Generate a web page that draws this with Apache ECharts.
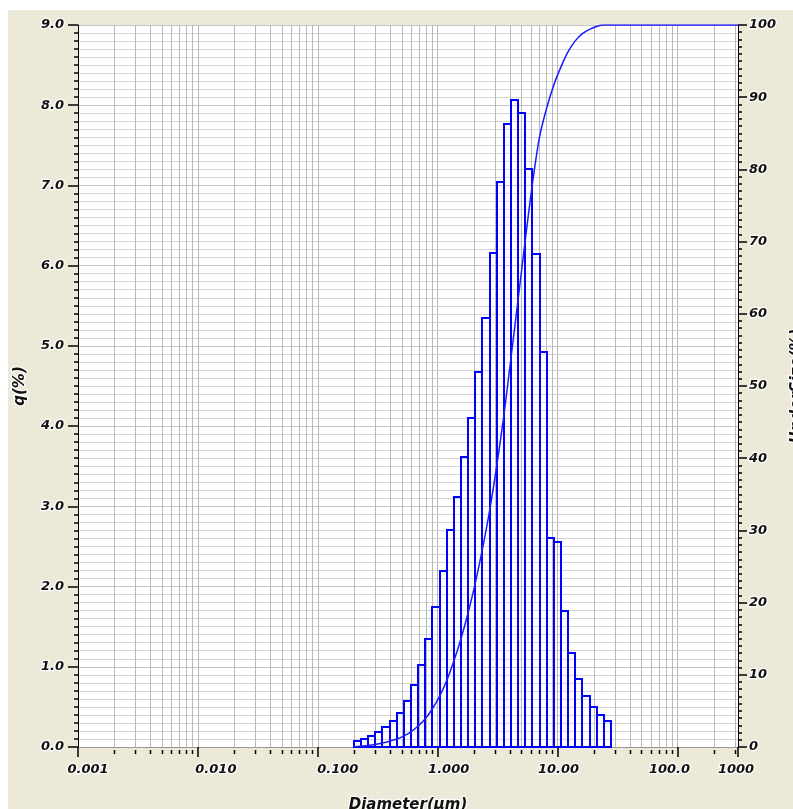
<!DOCTYPE html>
<html><head><meta charset="utf-8">
<script src="https://cdn.jsdelivr.net/npm/echarts@6/dist/echarts.min.js"></script>
<style>
html,body{margin:0;padding:0;background:#fff;width:793px;height:809px;overflow:hidden}
#c{position:absolute;left:8px;top:10px;width:785px;height:799px;background:#ECE9D8}
</style>
</head><body><div id="c"></div>
<script>
// ---- data ----
const binEdges = [0.2, 0.2294, 0.2631, 0.3018, 0.3462, 0.3971, 0.4555, 0.5224, 0.5992, 0.6873,
  0.7884, 0.9043, 1.037, 1.190, 1.365, 1.565, 1.795, 2.059, 2.362, 2.709, 3.107, 3.564, 4.088,
  4.689, 5.378, 6.169, 7.076, 8.116, 9.309, 10.68, 12.25, 14.05, 16.11, 18.48, 21.20, 24.32, 27.89];
const qPercent = [0.07, 0.10, 0.14, 0.19, 0.25, 0.32, 0.43, 0.57, 0.77, 1.02, 1.35, 1.75, 2.20,
  2.70, 3.12, 3.62, 4.10, 4.68, 5.35, 6.16, 7.04, 7.76, 8.07, 7.90, 7.20, 6.14, 4.93, 2.60, 2.55,
  1.69, 1.17, 0.85, 0.63, 0.50, 0.40, 0.32];
const underSizeX = binEdges.concat([320]);
const underSize = [0, 0.1, 0.2, 0.35, 0.55, 0.8, 1.1, 1.55, 2.1, 2.9, 3.9, 5.3, 7.0, 9.2, 11.9,
  15.0, 18.6, 22.7, 27.4, 32.7, 38.9, 45.9, 53.9, 62.0, 70.2, 78.0, 84.5, 88.5, 91.7, 94.2, 96.3,
  97.8, 98.8, 99.4, 99.8, 100, 100, 100];
const xTickLabels = ['0.001', '0.010', '0.100', '1.000', '10.00', '100.0', '1000'];
const xMinorTicks = [0.002,0.003,0.004,0.005,0.006,0.007,0.008,0.009,
  0.02,0.03,0.04,0.05,0.06,0.07,0.08,0.09,
  0.2,0.3,0.4,0.5,0.6,0.7,0.8,0.9,
  2,3,4,5,6,7,8,9,
  20,30,40,50,60,70,80,90,
  200,300];
const xMin = 0.001, xMax = 320;
const qMax = 9, uMax = 100;

// ---- styles ----
const labelShift = [10, 18, 20, 11, 1, -8, -2];
const FONT = 'DejaVu Sans';
const txt = {fontFamily: FONT, fontWeight: 'bold', fontStyle: 'italic', fontSize: 13, color: '#111',
  textBorderColor: 'rgba(255,255,255,0.9)', textBorderWidth: 2.5};
const nameTxt = Object.assign({}, txt, {fontSize: 15});
const rich = {};
labelShift.forEach((d, i) => {
  rich['r' + i] = Object.assign({}, txt, {padding: d >= 0 ? [0, 0, 0, 2 * d] : [0, -2 * d, 0, 0]});
});

const bars = qPercent.map((q, i) => [binEdges[i], binEdges[i + 1], q]);
const curve = underSize.map((u, i) => [underSizeX[i], u]);

const chart = echarts.init(document.getElementById('c'), null, {renderer: 'canvas'});
chart.setOption({
  animation: false,
  grid: {left: 70, right: 55, top: 15, bottom: 62, show: true, backgroundColor: '#fff', borderWidth: 0,
    containLabel: false, outerBoundsMode: 'none'},
  xAxis: {
    type: 'log', min: xMin, max: xMax, logBase: 10,
    name: 'Diameter(μm)', nameLocation: 'middle', nameGap: 51, nameTextStyle: nameTxt,
    axisLine: {show: true, lineStyle: {color: '#9a9a9a', width: 1}},
    axisTick: {show: true, length: 10, lineStyle: {color: '#000', width: 1.5}},
    axisLabel: {margin: 16, formatter: v => {
      const i = Math.min(6, Math.max(0, Math.round(Math.log10(v) + 3)));
      return '{r' + i + '|' + xTickLabels[i] + '}';
    }, rich: rich},
    splitLine: {show: true, lineStyle: {color: '#b8b8b8', width: 1}},
    minorTick: {show: false}
  },
  yAxis: [{
    type: 'value', min: 0, max: qMax, interval: 1, position: 'left',
    name: 'q(%)', nameLocation: 'middle', nameGap: 45, nameTextStyle: nameTxt,
    axisLine: {show: true, lineStyle: {color: '#000', width: 1}},
    axisTick: {show: true, length: 10, lineStyle: {color: '#000', width: 1.5}},
    minorTick: {show: true, splitNumber: 10, length: 4, lineStyle: {color: '#000', width: 1.5}},
    axisLabel: Object.assign({margin: 14, formatter: v => v.toFixed(1)}, txt),
    splitLine: {show: true, lineStyle: {color: '#c4c4c4', width: 1}},
    minorSplitLine: {show: true, lineStyle: {color: '#d4d4d4', width: 1}}
  }, {
    type: 'value', min: 0, max: uMax, interval: 10, position: 'right',
    name: 'UnderSize(%)', nameLocation: 'middle', nameGap: 46, nameTextStyle: nameTxt,
    axisLine: {show: true, lineStyle: {color: '#000', width: 1}},
    axisTick: {show: true, length: 9, lineStyle: {color: '#000', width: 1.5}},
    minorTick: {show: true, splitNumber: 10, length: 4, lineStyle: {color: '#000', width: 1.5}},
    axisLabel: Object.assign({margin: 11, formatter: v => String(v)}, txt),
    splitLine: {show: false}
  }],
  series: [{
    type: 'custom', name: 'grid', xAxisIndex: 0, yAxisIndex: 0, z: 1, silent: true, clip: false,
    data: xMinorTicks.map(v => [v]),
    encode: {x: 0},
    renderItem: (p, api) => {
      const v = api.value(0);
      const t = api.coord([v, qMax]), b = api.coord([v, 0]);
      const x = Math.round(b[0]) + 0.5;
      return {type: 'group', children: [
        {type: 'line', shape: {x1: x, y1: t[1], x2: x, y2: b[1]}, style: {stroke: '#b8b8b8', lineWidth: 1}},
        {type: 'line', shape: {x1: x, y1: b[1] + 3, x2: x, y2: b[1] + 7}, style: {stroke: '#000', lineWidth: 1.5}}
      ]};
    }
  }, {
    type: 'custom', name: 'q', xAxisIndex: 0, yAxisIndex: 0, z: 3, silent: true,
    data: bars, encode: {x: [0, 1], y: 2},
    renderItem: (p, api) => {
      const a = api.coord([api.value(0), api.value(2)]);
      const b = api.coord([api.value(1), 0]);
      const x0 = Math.round(a[0]), x1 = Math.round(b[0]);
      const y0 = Math.round(a[1]), y1 = Math.round(b[1]);
      return {type: 'rect', shape: {x: x0, y: y0, width: x1 - x0, height: y1 - y0},
        style: {fill: 'none', stroke: '#0000ff', lineWidth: 2}};
    }
  }, {
    type: 'line', name: 'UnderSize', xAxisIndex: 0, yAxisIndex: 1, z: 4,
    data: curve, showSymbol: false, symbol: 'none', smooth: 0.3,
    lineStyle: {color: '#1a1aff', width: 1.5}
  }]
});
</script>
</body></html>
